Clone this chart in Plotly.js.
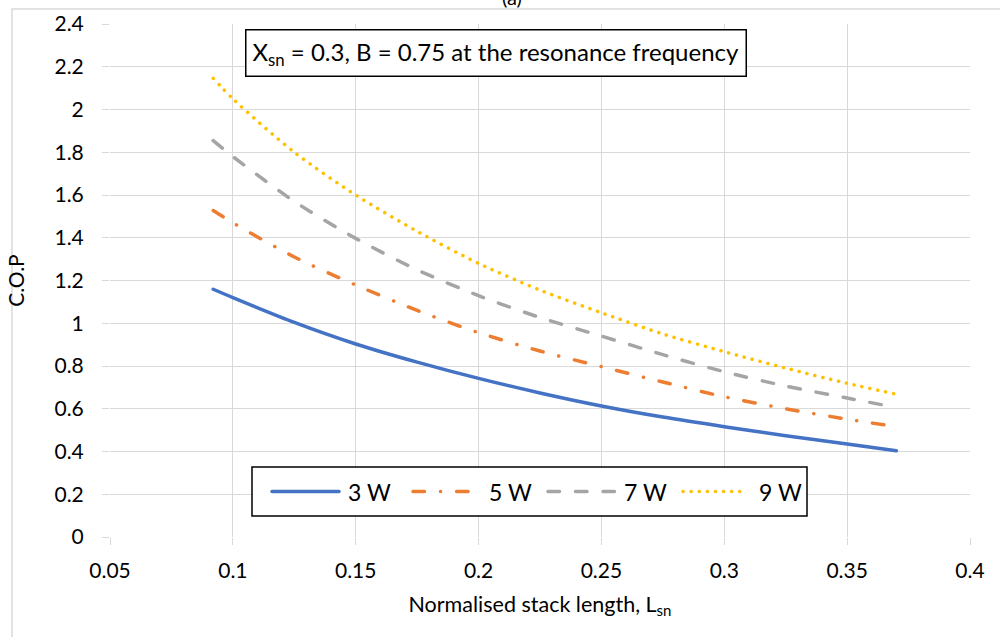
<!DOCTYPE html>
<html>
<head>
<meta charset="utf-8">
<script src="https://cdn.plot.ly/plotly-3.0.1.min.js"></script>
<style>
html,body{margin:0;padding:0;background:#fff;}
#chart{width:1000px;height:637px;}
.scatterlayer path.js-line, .shapelayer path { stroke-linecap: round !important; }
</style>
</head>
<body>
<div id="chart"></div>
<script>
const lsn = [0.092, 0.1, 0.125, 0.15, 0.175, 0.2, 0.225, 0.25, 0.275, 0.3, 0.325, 0.35, 0.37];
const cop3W = [1.159, 1.120, 1.004, 0.903, 0.818, 0.742, 0.674, 0.613, 0.561, 0.516, 0.474, 0.435, 0.404];
const cop5W = [1.527, 1.470, 1.310, 1.179, 1.060, 0.956, 0.870, 0.797, 0.725, 0.656, 0.600, 0.551, 0.516];
const cop7W = [1.854, 1.780, 1.570, 1.397, 1.250, 1.129, 1.027, 0.940, 0.853, 0.773, 0.706, 0.650, 0.606];
const cop9W = [2.146, 2.050, 1.800, 1.600, 1.430, 1.280, 1.155, 1.049, 0.950, 0.867, 0.790, 0.719, 0.668];
const seriesNames = ['3 W', '5 W', '7 W', '9 W'];
const xTicks = [0.05, 0.1, 0.15, 0.2, 0.25, 0.3, 0.35, 0.4];
const xTickText = ['0.05', '0.1', '0.15', '0.2', '0.25', '0.3', '0.35', '0.4'];
const yTicks = [0, 0.2, 0.4, 0.6, 0.8, 1, 1.2, 1.4, 1.6, 1.8, 2, 2.2, 2.4];
const yTickText = ['0', '0.2', '0.4', '0.6', '0.8', '1', '1.2', '1.4', '1.6', '1.8', '2', '2.2', '2.4'];

const FONT = 'Lato, "Open Sans", sans-serif';
const styles = [
  {color: '#4472C4', dash: 'solid'},
  {color: '#ED7D31', dash: '11.5px,16px,0.1px,16px'},
  {color: '#A5A5A5', dash: '11.5px,16px'},
  {color: '#FFC000', dash: '0.1px,8px'}
];
const ys = [cop3W, cop5W, cop7W, cop9W];
const traces = ys.map((y, i) => ({
  x: lsn, y: y, name: seriesNames[i], type: 'scatter', mode: 'lines', showlegend: false,
  line: {color: styles[i].color, width: 3.5, dash: styles[i].dash, shape: 'spline', smoothing: 0.8}
}));

// custom legend placement (pixels -> paper)
const L = 110, PW = 860, B = 537, PH = 513;
const px = v => (v - L) / PW;
const py = v => (B - v) / PH;
const legLineX = [[272, 339], [413, 470], [548, 616], [683, 742]];
const legTextX = [346, 487, 622, 757];
const legY = 491.5;

const grid = '#D9D9D9';
const shapes = [
  {type: 'rect', xref: 'paper', yref: 'paper', x0: -0.114, x1: 1.06, y0: -0.22, y1: 1.029,
   line: {color: grid, width: 1.5}, fillcolor: 'rgba(0,0,0,0)', layer: 'below'},
  {type: 'rect', xref: 'paper', yref: 'paper', x0: px(252), x1: px(807), y0: py(516), y1: py(467),
   line: {color: '#000', width: 1.5}, fillcolor: '#fff', layer: 'above'}
];
const annotations = [
  {xref: 'paper', yref: 'paper', x: px(496), y: py(53.5), xanchor: 'center', yanchor: 'middle',
   text: 'X<sub>sn</sub> = 0.3, B = 0.75 at the resonance frequency', showarrow: false,
   font: {family: FONT, size: 24, color: '#000'},
   bgcolor: '#fff', bordercolor: '#000', borderwidth: 1.5, borderpad: 6},
  {xref: 'paper', yref: 'paper', x: px(512), y: py(-3), xanchor: 'center', yanchor: 'middle',
   text: '(a)', showarrow: false, font: {family: FONT, size: 20, color: '#000'}}
];
seriesNames.forEach((n, i) => {
  shapes.push({type: 'line', xref: 'paper', yref: 'paper',
    x0: px(legLineX[i][0]), x1: px(legLineX[i][1]), y0: py(legY), y1: py(legY),
    line: {color: styles[i].color, width: 3.5, dash: styles[i].dash}, layer: 'above'});
  annotations.push({xref: 'paper', yref: 'paper', x: px(legTextX[i]), y: py(legY),
    xanchor: 'left', yanchor: 'middle', text: n, showarrow: false,
    font: {family: FONT, size: 23, color: '#000'}});
});

const layout = {
  width: 1000, height: 637,
  margin: {l: 110, r: 30, t: 24, b: 100},
  paper_bgcolor: '#fff', plot_bgcolor: '#fff',
  font: {family: FONT, color: '#000', size: 20},
  showlegend: false,
  xaxis: {
    range: [0.05, 0.4], tickvals: xTicks, ticktext: xTickText,
    showgrid: true, gridcolor: grid, gridwidth: 1, zeroline: false,
    showline: false, ticks: 'outside', ticklen: 7, tickcolor: grid,
    ticklabelstandoff: 8,
    tickfont: {family: FONT, size: 21, color: '#000'},
    title: {text: 'Normalised stack length, L<sub>sn</sub>', font: {family: FONT, size: 21.5, color: '#000'}, standoff: 15}
  },
  yaxis: {
    range: [0, 2.4], tickvals: yTicks, ticktext: yTickText,
    showgrid: true, gridcolor: grid, gridwidth: 1, zeroline: false,
    showline: false, ticks: 'outside', ticklen: 7, tickcolor: grid,
    ticklabelstandoff: 14,
    tickfont: {family: FONT, size: 21, color: '#000'},
    title: {text: 'C.O.P', font: {family: FONT, size: 21, color: '#000'}, standoff: 24}
  },
  shapes: shapes,
  annotations: annotations
};
Plotly.newPlot('chart', traces, layout, {displayModeBar: false, staticPlot: true});
</script>
</body>
</html>
